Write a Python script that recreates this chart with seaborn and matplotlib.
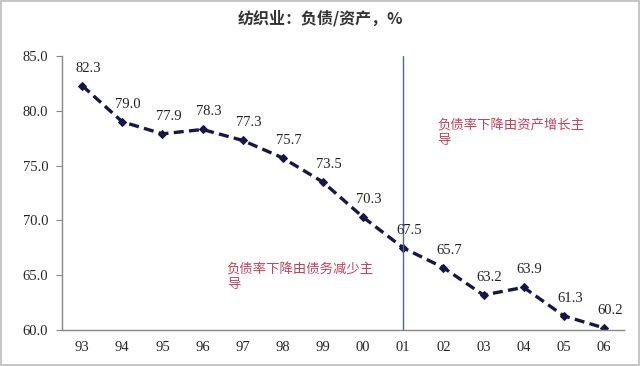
import pandas as pd
import seaborn as sns
import matplotlib.pyplot as plt

# data
years = ['93', '94', '95', '96', '97', '98', '99', '00', '01', '02', '03', '04', '05', '06']
ratio = [82.3, 79.0, 77.9, 78.3, 77.3, 75.7, 73.5, 70.3, 67.5, 65.7, 63.2, 63.9, 61.3, 60.2]
y_ticks = [60.0, 65.0, 70.0, 75.0, 80.0, 85.0]
title = '纺织业：负债/资产，%'
note_left = '负债率下降由债务减少主\n导'
note_right = '负债率下降由资产增长主\n导'
split_year = '01'

df = pd.DataFrame({'year': years, 'ratio': ratio})
df['pos'] = range(len(df))

sns.set_style('white')
plt.rcParams['font.family'] = ['Liberation Serif', 'Noto Sans CJK SC', 'DejaVu Sans']

fig = plt.figure(figsize=(6.4, 3.66), dpi=100)
ax = fig.add_axes([0.097, 0.098, 0.878, 0.749])

sns.lineplot(data=df, x='pos', y='ratio', ax=ax, color='#16164a', linewidth=2.4,
             linestyle=(0, (3, 1.6)), marker='D', markersize=4.5,
             markeredgecolor='#16164a')

# value labels, nudged up and slightly right like in the original
for p, v in zip(df['pos'], df['ratio']):
    ax.annotate(f'{v:.1f}', (p, v), textcoords='offset pixels', xytext=(6, 11),
                ha='center', va='bottom', fontsize=10.5, color='#222222',
                family='Liberation Serif')

split = years.index(split_year)
ax.axvline(split, color='#4a6a95', linewidth=1.0)

ax.text(3.6, 66.2, note_left, color='#c8405a', fontsize=9.6,
        family=['Noto Sans CJK SC'], va='top', linespacing=1.05)
ax.text(8.85, 79.3, note_right, color='#c8405a', fontsize=9.6,
        family=['Noto Sans CJK SC'], va='top', linespacing=1.05)

ax.set_xlim(-0.5, len(years) - 0.5)
ax.set_ylim(60, 85)
ax.set_yticks(y_ticks)
ax.set_yticklabels([f'{t:.1f}' for t in y_ticks], fontsize=10.5)
ax.set_xticks(df['pos'])
ax.set_xticklabels(years, fontsize=10.5)
ax.set_xlabel('')
ax.set_ylabel('')

# category-style minor ticks between years
ax.set_xticks([p + 0.5 for p in range(len(years))], minor=True)
ax.tick_params(axis='x', which='major', length=0, pad=8)
ax.tick_params(axis='x', which='minor', direction='in', length=4, color='#888888')
ax.tick_params(axis='y', direction='out', length=4, color='#888888', left=True, pad=6)

for s in ['top', 'right']:
    ax.spines[s].set_visible(False)
for s in ['left', 'bottom']:
    ax.spines[s].set_color('#888888')
    ax.spines[s].set_linewidth(1.0)

fig.text(0.5, 0.95, title, ha='center', va='center', fontsize=11.5,
         fontweight='bold', family=['Noto Sans CJK SC'], color='#333333')

fig.patches.append(plt.Rectangle((0.002, 0.003), 0.996, 0.994, transform=fig.transFigure,
                                 fill=False, edgecolor='#bbbbbb', linewidth=1.2))

fig.savefig('out.png', dpi=100)
